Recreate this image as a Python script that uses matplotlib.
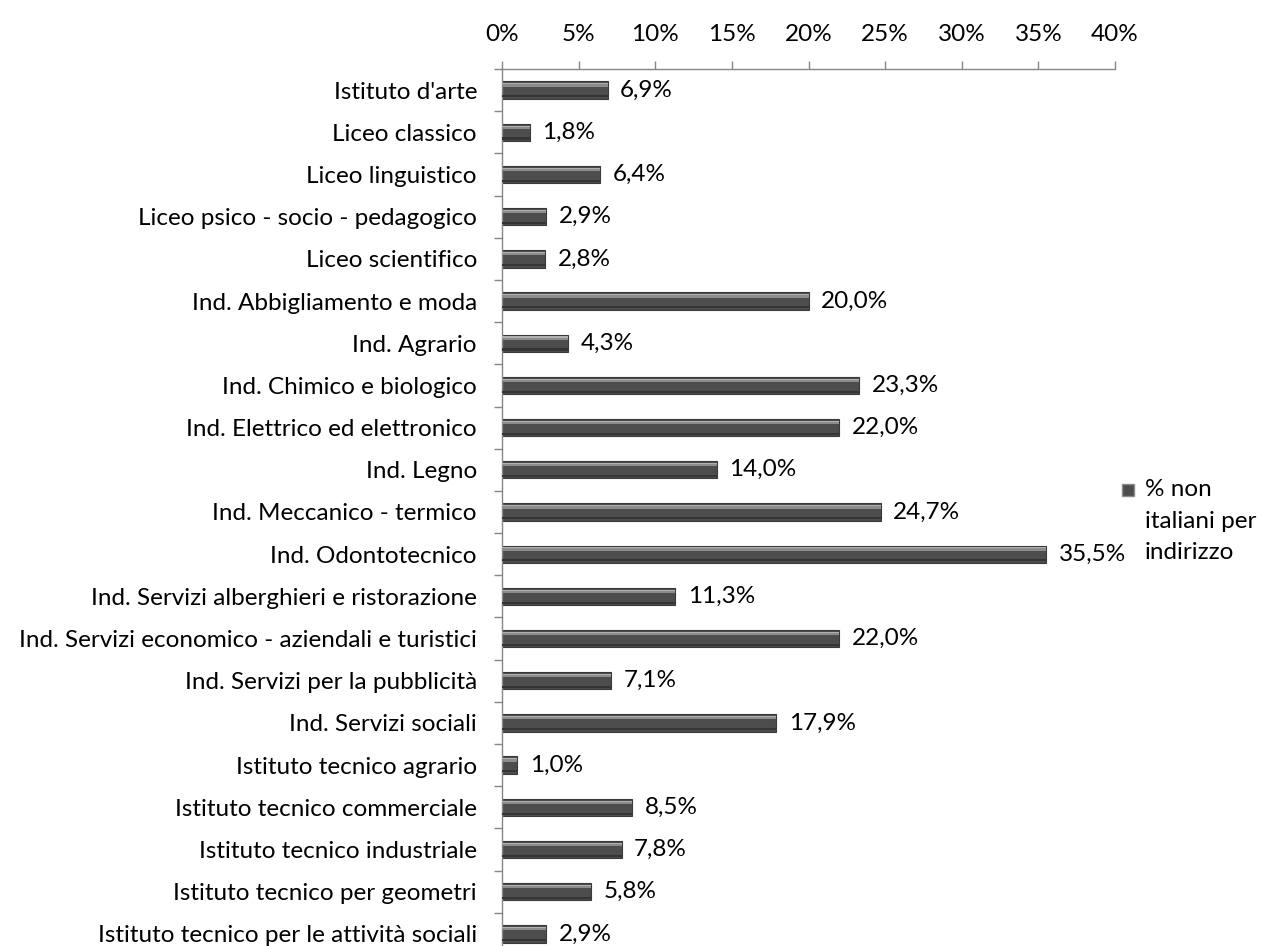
import matplotlib
matplotlib.use("Agg")
from matplotlib import pyplot as plt
from matplotlib.patches import Rectangle
from matplotlib.ticker import FixedLocator
import numpy as np

categories = [
    "Istituto d'arte",
    "Liceo classico",
    "Liceo linguistico",
    "Liceo psico - socio - pedagogico",
    "Liceo scientifico",
    "Ind. Abbigliamento e moda",
    "Ind. Agrario",
    "Ind. Chimico e biologico",
    "Ind. Elettrico ed elettronico",
    "Ind. Legno",
    "Ind. Meccanico - termico",
    "Ind. Odontotecnico",
    "Ind. Servizi alberghieri e ristorazione",
    "Ind. Servizi economico - aziendali e turistici",
    "Ind. Servizi per la pubblicità",
    "Ind. Servizi sociali",
    "Istituto tecnico agrario",
    "Istituto tecnico commerciale",
    "Istituto tecnico industriale",
    "Istituto tecnico per geometri",
    "Istituto tecnico per le attività sociali",
]
values = [6.9, 1.8, 6.4, 2.9, 2.8, 20.0, 4.3, 23.3, 22.0, 14.0, 24.7, 35.5,
          11.3, 22.0, 7.1, 17.9, 1.0, 8.5, 7.8, 5.8, 2.9]
xticks = [0, 5, 10, 15, 20, 25, 30, 35, 40]
legend_label = "% non\nitaliani per\nindirizzo"

plt.rcParams['font.family'] = ['Lato', 'DejaVu Sans']
FS = 17.5
W, H = 1262, 946
fig = plt.figure(figsize=(W / 100, H / 100), dpi=100)
# axes placed in pixels (bottom runs slightly past the figure edge, as in the original)
left, right, top, bottom = 502, 1115, 69, 955
ax = fig.add_axes([left / W, (H - bottom) / H, (right - left) / W, (bottom - top) / H])

n = len(categories)
y = np.arange(n)
vals = np.array(values)
bh = 0.41

# main bar + bevel effect
ax.barh(y, vals, height=bh, color="#4d4d4d", edgecolor="#3a3a3a", linewidth=0.8, zorder=2)
ax.barh(y - bh * 0.28, vals, height=bh * 0.16, color="#8c8c8c", linewidth=0, zorder=3)
ax.barh(y - bh * 0.36, vals, height=bh * 0.06, color="#b0b0b0", linewidth=0, zorder=3)
ax.barh(y + bh * 0.36, vals, height=bh * 0.12, color="#353535", linewidth=0, zorder=3)

for yi, v in zip(y, vals):
    ax.annotate(f"{v:.1f}%".replace(".", ","), (v, yi), xytext=(9, 0),
                textcoords="offset points", va="center", ha="left", fontsize=FS)

ax.set_xlim(0, 40)
ax.set_ylim(n - 0.5, -0.5)
ax.xaxis.tick_top()
ax.set_xticks(xticks)
ax.set_xticklabels([f"{t}%" for t in xticks], fontsize=FS)
ax.tick_params(axis="x", direction="out", length=5.5, width=1, color="#868686", pad=12)

ax.set_yticks(y)
ax.set_yticklabels(categories, fontsize=FS)
ax.tick_params(axis="y", which="major", length=0, pad=18)
ax.yaxis.set_minor_locator(FixedLocator(np.arange(-0.5, n, 1.0)))
ax.tick_params(axis="y", which="minor", direction="out", length=5.5, width=1, color="#868686")

for s in ["right", "bottom"]:
    ax.spines[s].set_visible(False)
for s in ["left", "top"]:
    ax.spines[s].set_color("#868686")
    ax.spines[s].set_linewidth(1)

# legend
fig.patches.append(Rectangle((1122 / W, 1 - 496 / H), 12 / W, 12 / H, transform=fig.transFigure,
                             facecolor="#4d4d4d", edgecolor="#8c8c8c", linewidth=1))
fig.text(1145 / W, 1 - 479 / H, legend_label, fontsize=FS, va="top", ha="left", linespacing=1.62)

fig.savefig("out.png", dpi=100)
